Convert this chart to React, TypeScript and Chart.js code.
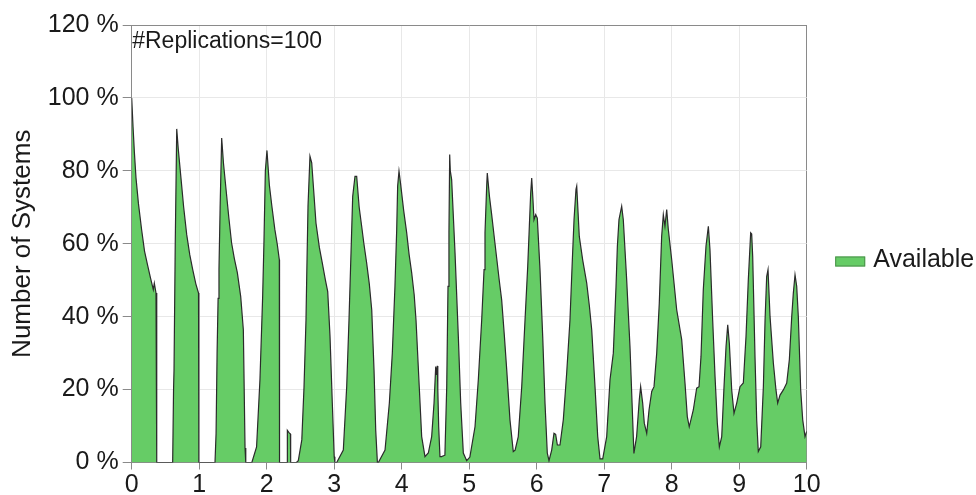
import { useEffect, useRef } from 'react';
import { Chart, registerables } from 'chart.js';

Chart.register(...registerables);

// Time (x axis, 0..10) and share of available systems (%)
const timeValues = [
  0, 0.02, 0.04, 0.064, 0.1, 0.148, 0.19, 0.237, 0.28, 0.32, 0.335, 0.36, 0.37, 0.372,
  0.607, 0.62, 0.627, 0.645, 0.667, 0.69, 0.73, 0.77, 0.815, 0.86, 0.904, 0.95, 0.99, 0.995,
  1.234, 1.25, 1.265, 1.28, 1.293, 1.31, 1.333, 1.36, 1.397, 1.44, 1.48, 1.52, 1.565, 1.615, 1.654, 1.679, 1.69,
  1.78, 1.85, 1.9, 1.94, 1.96, 1.98, 2.004, 2.04, 2.074, 2.12, 2.157, 2.187, 2.19,
  2.303, 2.306, 2.33, 2.352, 2.355,
  2.44, 2.468, 2.52, 2.553, 2.582, 2.593, 2.612, 2.641, 2.667, 2.73, 2.78, 2.824, 2.87, 2.904, 2.938, 2.972, 3.0, 3.01,
  3.037, 3.135, 3.185, 3.219, 3.249, 3.274, 3.308, 3.333, 3.37, 3.407, 3.44, 3.481, 3.52, 3.556, 3.59, 3.615, 3.64,
  3.654, 3.753, 3.817, 3.861, 3.9, 3.926, 3.94, 3.96, 3.985, 4.03, 4.074, 4.11, 4.148, 4.185, 4.212, 4.26, 4.296, 4.345,
  4.394, 4.444, 4.479, 4.504, 4.515, 4.528, 4.535, 4.548, 4.567,
  4.59, 4.64, 4.667, 4.686, 4.7, 4.711, 4.72, 4.74, 4.79, 4.839, 4.874, 4.913, 4.963,
  5.01, 5.086, 5.135, 5.185, 5.22, 5.234, 5.259, 5.268, 5.3, 5.333, 5.37, 5.407, 5.445, 5.481, 5.52, 5.556, 5.604, 5.653, 5.68,
  5.727, 5.778, 5.827, 5.867, 5.891, 5.911, 5.926, 5.945, 5.96, 5.985, 6.009, 6.049, 6.089, 6.123, 6.157, 6.182,
  6.222, 6.256, 6.281, 6.306, 6.345,
  6.394, 6.444, 6.493, 6.528, 6.553, 6.582, 6.593, 6.631, 6.681, 6.741, 6.78, 6.815, 6.864, 6.904, 6.938, 6.978,
  7.037, 7.086, 7.135, 7.175, 7.195, 7.219, 7.245, 7.259, 7.283, 7.333, 7.382, 7.422, 7.44, 7.48, 7.52, 7.54, 7.57, 7.594, 7.63,
  7.664, 7.704, 7.738, 7.778, 7.816, 7.851, 7.876, 7.9, 7.926, 7.95, 8.0, 8.074, 8.148, 8.197, 8.231, 8.26, 8.32, 8.37, 8.405,
  8.434, 8.468, 8.508, 8.543, 8.567, 8.607, 8.642, 8.676, 8.706, 8.741, 8.775, 8.805, 8.83, 8.854, 8.889, 8.923, 8.963, 9.012,
  9.061, 9.101, 9.135, 9.17, 9.185, 9.2, 9.234, 9.259, 9.283, 9.319, 9.358, 9.383, 9.407, 9.427, 9.457, 9.506, 9.545, 9.57,
  9.605, 9.654, 9.704, 9.743, 9.778, 9.802, 9.827, 9.852, 9.876, 9.911, 9.941, 9.975, 10,
];

const availablePct = [
  100, 92, 85, 78, 71, 63.7, 58, 54, 50.5, 47.4, 49.2, 46.5, 46, 0,
  0, 20, 25.4, 60, 91.5, 86, 78, 70, 62.5, 57, 52.9, 49, 46.5, 0,
  0, 8, 30, 45, 53, 70, 89, 82, 75, 67, 60.2, 56, 52.1, 45.5, 36.4, 4, 0,
  0, 4.3, 22.7, 45.5, 61, 80, 85.6, 76, 70.7, 64, 59.8, 55.6, 0,
  0, 8.8, 8.2, 7.8, 0,
  0, 0.5, 6.2, 20.8, 39, 51, 70.3, 84, 82.2, 65.7, 59, 54.7, 50, 46.9, 34.6, 16.3, 1.6, 0,
  0, 3.4, 20.8, 39, 57.5, 73, 78.5, 78.5, 70, 64.8, 60, 54.7, 49, 41.9, 25.4, 8.9, 0,
  0, 3.4, 16.3, 30, 48.3, 63.9, 75.8, 79.9, 76.2, 69, 63, 57, 52, 46, 39.1, 20.8, 7.1, 1.6,
  2.6, 7.1, 16.3, 26.3, 24, 26.5, 20, 9.8, 1.6,
  1.6, 2, 20.8, 48.3, 63, 84.5, 80, 77.6, 57.5, 34.6, 16.3, 2.6, 0.5,
  1.5, 9.8, 22.7, 39.1, 52.9, 63, 75.8, 79.4, 73, 68, 62, 56.1, 50, 44.6, 35, 25.4, 11.7, 3, 3.4,
  7.1, 20.8, 39.1, 53.8, 64.8, 73.9, 78, 72, 66.6, 68, 67, 52.9, 34.6, 16.3, 2.6, 0.5,
  3.4, 8, 7.7, 4.8, 4.8,
  11.7, 24.5, 39.1, 55.6, 66.6, 74.9, 75.8, 62, 55.6, 49.2, 43, 36.4, 20.8, 7.1, 1, 1,
  7.1, 22.7, 30, 48.3, 59.3, 66.6, 69, 70.3, 66.6, 50.1, 31.8, 11.7, 2.5, 7.1, 17.2, 20.8, 16.3, 10.8, 8,
  14.4, 19.5, 20.8, 30, 43.7, 62, 68, 64.8, 69.4, 63.9, 55.6, 41.9, 33.7, 21.8, 12.6, 9.8, 14.4, 20.4, 20.8,
  29.1, 47.4, 59.3, 64.8, 58.4, 39.1, 23.6, 10.8, 4.3, 7.1, 20.8, 31.8, 37.8, 32.7, 19.9, 13.5, 16.3, 20.8,
  21.8, 34.6, 50.1, 63, 62.7, 56.5, 29.1, 11.7, 3, 4.3, 20.8, 39.1, 51, 52.9, 40, 27.3, 19.9, 16.3,
  18.5, 19.9, 21.8, 28.2, 40, 46.5, 51.5, 48.3, 40, 19.9, 11.7, 7.1, 8.5,
];

const xMin = 0;
const xMax = 10;
const xStep = 1;
const yMin = 0;
const yMax = 120;
const yStep = 20;
const seriesLabel = 'Available';
const yAxisTitle = 'Number of Systems';
const annotationText = '#Replications=100';

const FONT_FAMILY = "'Liberation Sans', Arial, Helvetica, sans-serif";
const TEXT_COLOR = '#1a1a1a';
const FILL_COLOR = 'rgb(102, 204, 102)';
const LINE_COLOR = '#2b2b2b';

export default function App() {
  const canvasRef = useRef<HTMLCanvasElement | null>(null);

  useEffect(() => {
    document.body.style.margin = '0';
    const canvas = canvasRef.current;
    if (!canvas) return;

    const points = timeValues.map((x, i) => ({ x, y: availablePct[i] }));

    const overlayPlugin = {
      id: 'overlay',
      afterDraw(chart: any) {
        const { ctx, chartArea } = chart;
        const ds = chart.data.datasets[0];
        ctx.save();
        ctx.font = `23px ${FONT_FAMILY}`;
        ctx.fillStyle = TEXT_COLOR;
        ctx.textBaseline = 'alphabetic';
        ctx.textAlign = 'left';
        ctx.fillText(annotationText, chartArea.left + 0.5, chartArea.top + 23);

        // legend
        const bx = chartArea.right + 28.5;
        const by = chartArea.top + 231.5;
        ctx.fillStyle = ds.backgroundColor;
        ctx.fillRect(bx, by, 30, 10);
        ctx.strokeStyle = '#4d8f4d';
        ctx.lineWidth = 1;
        ctx.strokeRect(bx + 0.5, by + 0.5, 29, 9);
        ctx.font = `25px ${FONT_FAMILY}`;
        ctx.fillStyle = TEXT_COLOR;
        ctx.textBaseline = 'middle';
        ctx.fillText(ds.label, bx + 38, by + 4);
        ctx.restore();
      },
    };

    const tickFont = { family: FONT_FAMILY, size: 25 };
    const titleFont = { family: FONT_FAMILY, size: 26 };

    const chart = new Chart(canvas, {
      type: 'line',
      data: {
        datasets: [
          {
            label: seriesLabel,
            data: points,
            borderColor: LINE_COLOR,
            borderWidth: 1.2,
            backgroundColor: FILL_COLOR,
            fill: 'origin',
            pointRadius: 0,
            tension: 0,
          },
        ],
      },
      options: {
        responsive: false,
        animation: false,
        layout: { padding: { left: 0, top: 25, right: 169.3, bottom: 0 } },
        plugins: {
          legend: { display: false },
          tooltip: { enabled: false },
        },
        scales: {
          x: {
            type: 'linear',
            min: xMin,
            max: xMax,
            ticks: {
              stepSize: xStep,
              font: tickFont,
              color: TEXT_COLOR,
              padding: 1,
              maxRotation: 0,
              autoSkip: false,
            },
            grid: {
              color: (c: any) => (c.tick && c.tick.value === xMax ? '#8a8a8a' : '#e8e8e8'),
              tickColor: '#8a8a8a',
              tickLength: 7,
            },
            border: { color: '#8a8a8a' },
            afterFit: (s: any) => {
              s.height = 32.5;
            },
          },
          y: {
            min: yMin,
            max: yMax,
            ticks: {
              stepSize: yStep,
              font: tickFont,
              color: TEXT_COLOR,
              padding: 4,
              callback: (v: any) => `${v} %`,
            },
            grid: {
              color: (c: any) => (c.tick && c.tick.value === yMax ? '#8a8a8a' : '#e8e8e8'),
              tickColor: '#8a8a8a',
              tickLength: 9,
            },
            border: { color: '#8a8a8a' },
            title: {
              display: true,
              text: yAxisTitle,
              font: titleFont,
              color: TEXT_COLOR,
              padding: { top: 7, bottom: 0 },
            },
            afterFit: (s: any) => {
              s.width = 131.7;
            },
          },
        },
      },
      plugins: [overlayPlugin],
    });

    return () => {
      chart.destroy();
    };
  }, []);

  return (
    <canvas
      ref={canvasRef}
      width={976}
      height={495}
      style={{ display: 'block', width: 976, height: 495 }}
    />
  );
}
